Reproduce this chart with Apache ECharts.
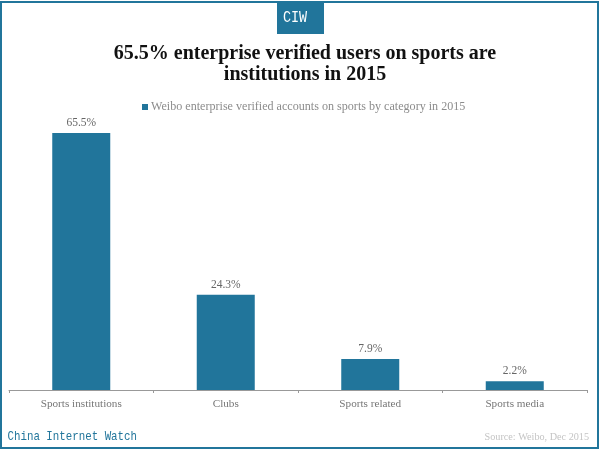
<!DOCTYPE html>
<html><head><meta charset="utf-8">
<style>html,body{margin:0;padding:0;background:#fff}#c{width:600px;height:450px}</style>
<script src="https://cdn.jsdelivr.net/npm/echarts@6/dist/echarts.min.js"></script>
</head><body><div id="c"></div>
<script>
const categories = ['Sports institutions','Clubs','Sports related','Sports media'];
const values = [65.5,24.3,7.9,2.2];
const seriesName = 'Weibo enterprise verified accounts on sports by category in 2015';
const titleText = '65.5% enterprise verified users on sports are\ninstitutions in 2015';
const teal = '#21759b';
const serif = '"Liberation Serif",serif';
const chart = echarts.init(document.getElementById('c'),null,{renderer:'canvas'});
chart.setOption({
  animation:false,
  backgroundColor:'#fff',
  title:{text:titleText,left:300,top:38,textAlign:'center',
    textStyle:{fontFamily:serif,fontSize:20,fontWeight:'bold',color:'#111',lineHeight:21}},
  legend:{data:[seriesName],top:101,left:142,itemWidth:6,itemHeight:6,itemGap:2,icon:'rect',padding:0,
    textStyle:{fontFamily:serif,fontSize:12.1,color:'#8c8c8c',padding:[0,0,0,-2]}},
  grid:{left:9,right:13,top:115.4,bottom:60},
  xAxis:{type:'category',data:categories,
    axisLine:{lineStyle:{color:'#999',width:1}},
    axisTick:{show:true,length:3,lineStyle:{color:'#999'}},
    axisLabel:{fontFamily:serif,fontSize:11.2,color:'#777',margin:9}},
  yAxis:{type:'value',min:0,max:70,show:false,splitLine:{show:false}},
  series:[{name:seriesName,type:'bar',data:values,barWidth:58,
    itemStyle:{color:teal},
    label:{show:true,position:'top',distance:4,fontFamily:serif,fontSize:11.5,color:'#666',
      formatter:p=>p.value.toFixed(1)+'%'}}],
  graphic:[
    {type:'rect',shape:{x:1,y:2,width:597,height:446},style:{fill:'none',stroke:teal,lineWidth:2}},
    {type:'rect',shape:{x:277,y:2,width:47,height:32},style:{fill:teal}},
    {type:'text',x:295,y:18,scaleX:0.84,originX:0,style:{text:'CIW',fill:'#fff',font:'16px "Liberation Mono",monospace',align:'center',verticalAlign:'middle'}},
    {type:'text',x:7.5,y:437,scaleX:0.83,style:{text:'China Internet Watch',fill:teal,font:'13px "Liberation Mono",monospace',align:'left',verticalAlign:'middle'}},
    {type:'text',x:589,y:437,style:{text:'Source: Weibo, Dec 2015',fill:'#c4c4c4',font:'10.2px "Liberation Serif",serif',align:'right',verticalAlign:'middle'}}
  ]
});
</script></body></html>
